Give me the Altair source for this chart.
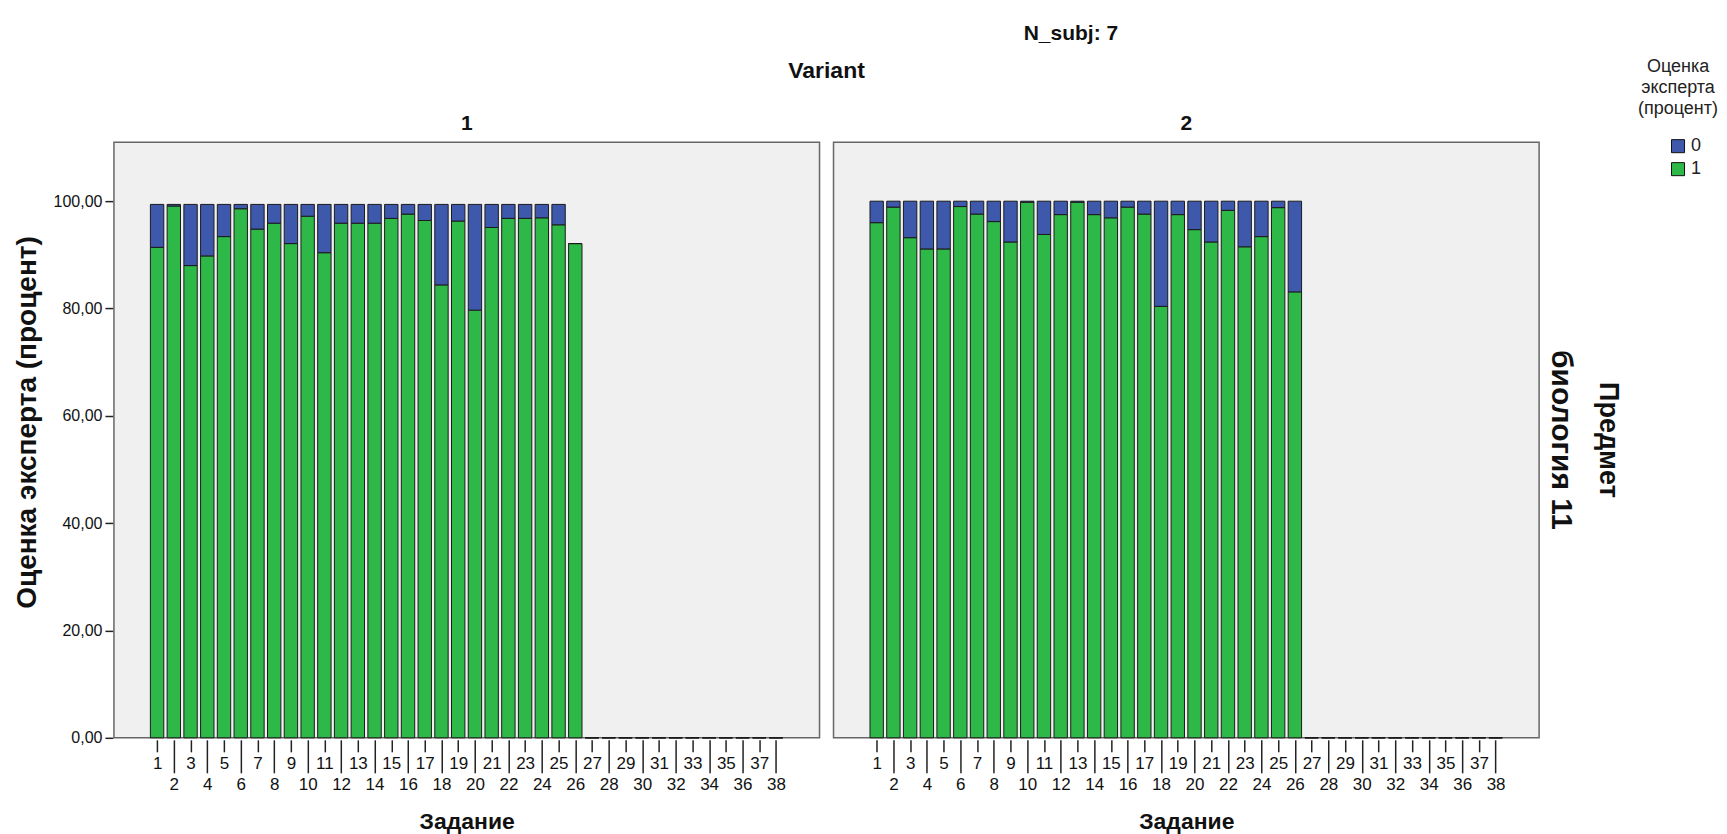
import altair as alt
import pandas as pd

# ---- data ----
tasks = list(range(1, 39))
subject = "биология 11"
grade_labels = ["0", "1"]

green_v1 = [91.4, 99.1, 88.0, 89.8, 93.4, 98.6, 94.8, 95.9, 92.1, 97.2,
            90.4, 95.9, 95.9, 95.9, 96.8, 97.6, 96.4, 84.4, 96.3, 79.7,
            95.1, 96.8, 96.8, 96.9, 95.6, 92.1,
            0, 0, 0, 0, 0, 0, 0, 0, 0, 0, 0, 0]
blue_v1 = [8.0, 0.3, 11.4, 9.6, 6.0, 0.8, 4.6, 3.5, 7.3, 2.2,
           9.0, 3.5, 3.5, 3.5, 2.6, 1.8, 3.0, 15.0, 3.1, 19.7,
           4.3, 2.6, 2.6, 2.5, 3.8, 0,
           0, 0, 0, 0, 0, 0, 0, 0, 0, 0, 0, 0]
green_v2 = [96.0, 98.9, 93.2, 91.1, 91.1, 99.0, 97.6, 96.2, 92.4, 99.8,
            93.8, 97.5, 99.8, 97.5, 96.9, 98.9, 97.6, 80.4, 97.5, 94.7,
            92.4, 98.3, 91.5, 93.4, 98.8, 83.1,
            0, 0, 0, 0, 0, 0, 0, 0, 0, 0, 0, 0]
blue_v2 = [4.0, 1.1, 6.8, 8.9, 8.9, 1.0, 2.4, 3.8, 7.6, 0.2,
           6.2, 2.5, 0.2, 2.5, 3.1, 1.1, 2.4, 19.6, 2.5, 5.3,
           7.6, 1.7, 8.5, 6.6, 1.2, 16.9,
           0, 0, 0, 0, 0, 0, 0, 0, 0, 0, 0, 0]

rows = []
for variant, greens, blues in [(1, green_v1, blue_v1), (2, green_v2, blue_v2)]:
    for t, g, b in zip(tasks, greens, blues):
        rows.append({"Variant": variant, "Subject": subject, "task": t, "grade": "1", "pct": g})
        rows.append({"Variant": variant, "Subject": subject, "task": t, "grade": "0", "pct": b})
df = pd.DataFrame(rows)

FONT = "Liberation Sans"
BLUE = "#3E58AC"
GREEN = "#2EB848"

x_axis = alt.Axis(
    values=tasks,
    title="Задание",
    labelAngle=0,
    labelOverlap=False,
    labelFlush=False,
    labelFont=FONT,
    labelFontSize=17,
    labelColor="#111111",
    labelPadding=4,
    tickSize={"condition": {"test": "datum.value % 2 == 0", "value": 33}, "value": 12},
    tickColor="#222222",
    tickWidth=1.5,
    domain=False,
    grid=False,
    titleFont=FONT,
    titleFontSize=23,
    titleFontWeight="bold",
    titleColor="#111111",
    titlePadding=18,
)

y_axis = alt.Axis(
    values=[0, 20, 40, 60, 80, 100],
    labelExpr="replace(format(datum.value, '.2f'), '.', ',')",
    title="Оценка эксперта (процент)",
    labelFont=FONT,
    labelFontSize=16,
    labelColor="#111111",
    labelPadding=3,
    tickSize=8,
    tickColor="#222222",
    tickWidth=1.5,
    domain=False,
    grid=False,
    titleFont=FONT,
    titleFontSize=28,
    titleFontWeight="bold",
    titleColor="#111111",
    titlePadding=12,
    titleY=280,
)

bars = (
    alt.Chart(df)
    .transform_calculate(
        ord="datum.grade == '1' ? 0 : 1",
        x_lo="datum.task - 0.4",
        x_hi="datum.task + 0.4",
    )
    .transform_stack(
        stack="pct",
        as_=["y0", "y1"],
        groupby=["Variant", "Subject", "task"],
        sort=[alt.SortField("ord", order="ascending")],
    )
    .mark_bar(stroke="#1b1b1b", strokeWidth=1)
    .encode(
        x=alt.X("x_lo:Q", scale=alt.Scale(domain=[-1.58, 40.6], nice=False, zero=False), axis=x_axis),
        x2="x_hi:Q",
        y=alt.Y("y0:Q", scale=alt.Scale(domain=[0, 111], nice=False), axis=y_axis),
        y2="y1:Q",
        color=alt.Color(
            "grade:N",
            scale=alt.Scale(domain=grade_labels, range=[BLUE, GREEN]),
            legend=alt.Legend(
                title=["Оценка", "эксперта", "(процент)"],
                titleFont=FONT,
                titleFontSize=18,
                titleFontWeight="normal",
                titleColor="#222222",
                titleAlign="center",
                titleAnchor="middle",
                titleLineHeight=21,
                titlePadding=19,
                labelFont=FONT,
                labelFontSize=18,
                labelColor="#222222",
                symbolType="square",
                symbolSize=170,
                symbolStrokeColor="#111111",
                symbolStrokeWidth=1,
                symbolOffset=14,
                labelOffset=4,
                rowPadding=5,
                orient="none",
                legendX=1525,
                legendY=-84,
            ),
        ),
    )
    .properties(width=706, height=596)
)

chart = (
    bars.facet(
        column=alt.Column(
            "Variant:N",
            header=alt.Header(
                title="Variant",
                titleFont=FONT,
                titleFontSize=23,
                titleFontWeight="bold",
                titleColor="#111111",
                titlePadding=20,
                labelFont=FONT,
                labelFontSize=21,
                labelFontWeight="bold",
                labelColor="#111111",
                labelPadding=7,
            ),
        ),
        row=alt.Row(
            "Subject:N",
            header=alt.Header(
                title="Предмет",
                titleOrient="right",
                labelOrient="right",
                titleAngle=90,
                labelAngle=90,
                titleFont=FONT,
                titleFontSize=27,
                titleFontWeight="bold",
                titleColor="#111111",
                titlePadding=8,
                labelFont=FONT,
                labelFontSize=30,
                labelFontWeight="bold",
                labelColor="#111111",
                labelPadding=6,
            ),
        ),
        spacing=12,
    )
    .properties(
        title=alt.TitleParams(
            "N_subj: 7",
            font=FONT,
            fontSize=21,
            fontWeight="bold",
            color="#111111",
            anchor="middle",
            dx=205,
            offset=14,
        ),
        padding={"left": 5, "top": 15, "right": 0, "bottom": 0},
        background="white",
    )
    .configure_view(fill="#F0F0F0", stroke="#666666", strokeWidth=1.5)
)

chart.save("out.html", embed_options={"renderer": "svg", "actions": False})
